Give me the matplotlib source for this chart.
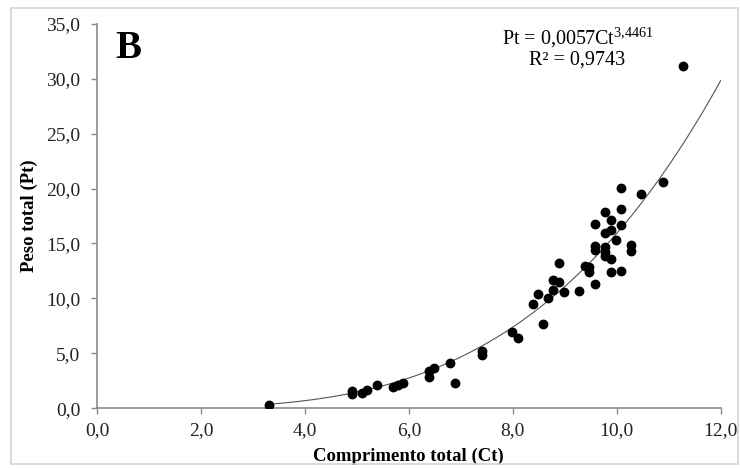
import numpy as np
import matplotlib
matplotlib.use("Agg")
import matplotlib.pyplot as plt
from matplotlib.ticker import FuncFormatter, MultipleLocator
from matplotlib.patches import Rectangle

plt.rcParams['font.family'] = ['Liberation Serif', 'DejaVu Serif']

# comprimento total (Ct) e peso total (Pt)
ct = [3.31, 4.90, 4.90, 5.10, 5.19, 5.39, 5.69, 5.79, 5.89, 6.39, 6.39, 6.49,
      6.79, 6.88, 7.40, 7.40, 7.98, 8.10, 8.39, 8.49, 8.58, 8.68, 8.78, 8.78,
      8.88, 8.88, 8.99, 9.28, 9.38, 9.47, 9.47, 9.58, 9.58, 9.58, 9.58, 9.78,
      9.78, 9.78, 9.78, 9.78, 9.88, 9.88, 9.88, 9.88, 9.98, 10.08, 10.08,
      10.08, 10.08, 10.28, 10.28, 10.47, 10.88, 11.28]
pt = [0.29, 1.60, 1.29, 1.38, 1.69, 2.14, 1.90, 2.14, 2.26, 2.87, 3.35, 3.63,
      4.12, 2.32, 5.24, 4.88, 6.97, 6.40, 9.50, 10.35, 7.68, 10.01, 11.69, 10.80,
      13.20, 11.47, 10.53, 10.71, 12.90, 12.84, 12.44, 16.73, 14.81, 14.42, 11.26,
      17.85, 15.93, 14.66, 14.20, 13.90, 17.12, 16.24, 13.60, 12.38, 15.27, 20.07,
      18.12, 16.66, 12.53, 14.90, 14.29, 19.53, 20.58, 31.13]

# ajuste potencial
a = 0.0057
b = 3.4461
eq_text = r'Pt = 0,0057Ct$^{\mathregular{3{,}4461}}$'
r2_text = 'R² = 0,9743'

fig = plt.figure(figsize=(7.4, 4.68), dpi=100)
ax = fig.add_axes([0.131, 0.128, 0.843, 0.821])

ax.scatter(ct, pt, s=50, color='black', zorder=3, linewidths=0)

xf = np.linspace(min(ct), 12, 200)
ax.plot(xf, a * xf ** b, color='#555555', lw=0.8, zorder=2)

ax.set_xlim(0, 12)
ax.set_ylim(0, 35)
ax.xaxis.set_major_locator(MultipleLocator(2))
ax.yaxis.set_major_locator(MultipleLocator(5))
fmt = FuncFormatter(lambda v, p: ('%.1f' % v).replace('.', ','))
ax.xaxis.set_major_formatter(fmt)
ax.yaxis.set_major_formatter(fmt)

for s in ['top', 'right']:
    ax.spines[s].set_visible(False)
for s in ['left', 'bottom']:
    ax.spines[s].set_color('#8a8a8a')
    ax.spines[s].set_linewidth(1.2)
ax.tick_params(direction='out', length=4, width=1, color='#8a8a8a',
               labelsize=14, labelcolor='#222222')
ax.tick_params(axis='x', pad=6)
ax.tick_params(axis='y', pad=8)

ax.set_xlabel('Comprimento total (Ct)', fontsize=13.5, fontweight='bold', labelpad=6)
ax.set_ylabel('Peso total (Pt)', fontsize=13.5, fontweight='bold', labelpad=6)

ax.text(0.03, 0.985, 'B', transform=ax.transAxes, fontsize=28, fontweight='bold',
        va='top', ha='left')
ax.text(0.77, 0.965, eq_text, transform=ax.transAxes, fontsize=14.5, ha='center', va='center')
ax.text(0.77, 0.905, r2_text, transform=ax.transAxes, fontsize=14.5, ha='center', va='center')

fig.patches.append(Rectangle((0.015, 0.008), 0.982, 0.975, transform=fig.transFigure,
                             fill=False, edgecolor='#d4d4d4', lw=1.2))

fig.savefig('out.png', dpi=100)
